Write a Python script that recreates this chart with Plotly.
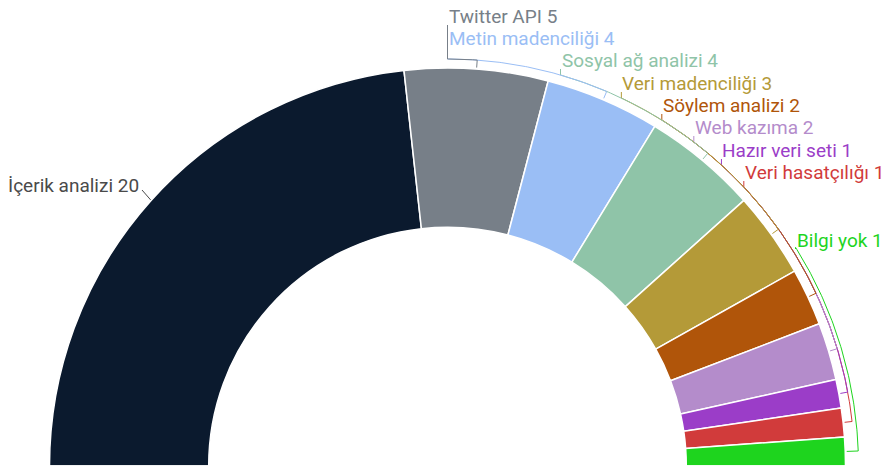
import math
import numpy as np
import plotly.graph_objects as go

# ---- data ----
labels = ["İçerik analizi", "Twitter API", "Metin madenciliği", "Sosyal ağ analizi",
          "Veri madenciliği", "Söylem analizi", "Web kazıma", "Hazır veri seti",
          "Veri hasatçılığı", "Bilgi yok"]
values = [20, 5, 4, 4, 3, 2, 2, 1, 1, 1]
colors = ["#0b1a2e", "#777f88", "#9abef5", "#8fc4a8", "#b49a38", "#b0550a",
          "#b48ccb", "#9b3dc8", "#d13b3b", "#1ed41e"]
text_colors = ["#4a4a4a"] + colors[1:]

# ---- layout (pixel geometry of the figure) ----
W, H = 891, 930
cx, cy, r = 439.5, 458.0, 398.0
HOLE = 0.6
R_ARC = 407.0
FONT_SIZE = 19
# vertical positions of the right-hand labels (figure px from top)
label_rows = [8, 30, 52, 75, 97, 119, 142, 164, 232]
arc_radii = [R_ARC] * 8 + [411.0]
left_label_pos = (133, 177)

total = sum(values)

fig = go.Figure()
fig.add_trace(go.Pie(
    labels=labels + [""],
    values=values + [total],
    textinfo="none",
    hole=HOLE,
    sort=False,
    direction="clockwise",
    rotation=270,
    marker=dict(colors=colors + ["rgba(0,0,0,0)"], line=dict(color="white", width=1.5)),
    showlegend=False,
    hoverinfo="skip",
    domain=dict(x=[(cx - r) / W, (cx + r) / W], y=[(H - cy - r) / H, (H - cy + r) / H]),
))

# mid angles of the slices (math degrees, 180 = left)
mids = []
cum = 0
for v in values:
    mids.append(180.0 - 180.0 * (cum + v / 2) / total)
    cum += v


def pt(rad, ang):
    a = math.radians(ang)
    return cx + rad * math.cos(a), cy - rad * math.sin(a)


annotations = []
traces = []
# left label (first slice)
mx, my = pt(r, mids[0])
lx, ly = left_label_pos
traces.append(go.Scatter(x=[lx + 1, mx], y=[ly + 5, my], mode="lines",
                         line=dict(color=text_colors[0], width=1),
                         hoverinfo="skip", showlegend=False))
annotations.append(dict(x=lx, y=ly, xref="x", yref="y", text=f"{labels[0]} {values[0]}",
                        showarrow=False, xanchor="right", yanchor="middle",
                        font=dict(color=text_colors[0], size=FONT_SIZE, family="Roboto")))

# right labels with connectors along the rim
for i in range(len(values) - 1, 0, -1):
    y = label_rows[i - 1]
    Ri = arc_radii[i - 1]
    ya = y + 15
    dy = cy - ya
    x_left = cx + math.sqrt(R_ARC ** 2 - dy ** 2) if abs(dy) < R_ARC else cx
    dx = x_left - cx
    y_hook = cy - math.sqrt(max(Ri ** 2 - dx ** 2, 0))
    psi = math.degrees(math.atan2(cy - y_hook, dx))
    angs = np.linspace(psi, mids[i], 80)
    xs = [x_left, x_left] + [cx + Ri * math.cos(math.radians(a)) for a in angs]
    ys = [y + 9, y_hook] + [cy - Ri * math.sin(math.radians(a)) for a in angs]
    tx, ty = pt(r + 1.5, mids[i])
    xs.append(tx)
    ys.append(ty)
    traces.append(go.Scatter(x=xs, y=ys, mode="lines",
                             line=dict(color=colors[i], width=1),
                             hoverinfo="skip", showlegend=False))
    annotations.append(dict(x=x_left - 1, y=y, xref="x", yref="y",
                            text=f"{labels[i]} {values[i]}",
                            showarrow=False, xanchor="left", yanchor="middle",
                            font=dict(color=text_colors[i], size=FONT_SIZE, family="Roboto")))

for t in traces:
    fig.add_trace(t)

fig.update_layout(
    width=W, height=H,
    margin=dict(l=0, r=0, t=0, b=0),
    paper_bgcolor="white", plot_bgcolor="rgba(0,0,0,0)",
    font=dict(family="Roboto"),
    xaxis=dict(range=[0, W], visible=False, fixedrange=True),
    yaxis=dict(range=[H, 0], visible=False, fixedrange=True),
    annotations=annotations,
)
fig.write_html("out.html")
